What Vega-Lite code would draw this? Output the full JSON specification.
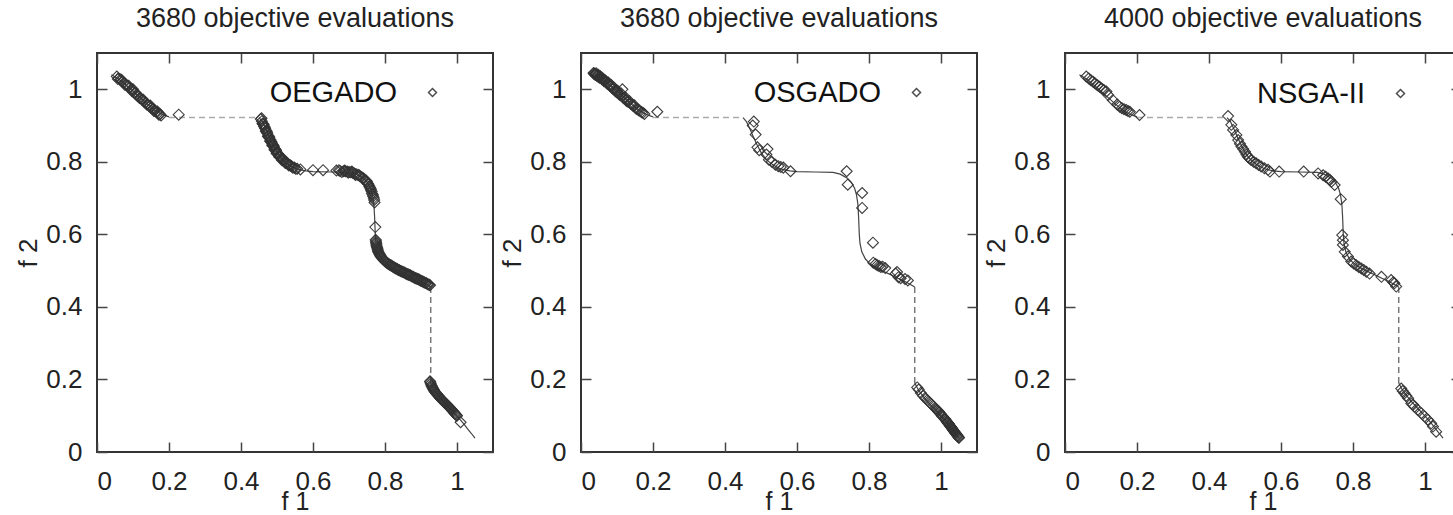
{
  "$schema": "https://vega.github.io/schema/vega-lite/v6.json",
  "padding": {"left": 14, "top": 4, "right": 0, "bottom": 0},
  "spacing": 88,
  "bounds": "flush",
  "config": {
    "font": "Liberation Sans",
    "view": {"stroke": "#333", "strokeWidth": 2},
    "axis": {"grid": false, "domain": false, "tickSize": -10, "tickColor": "#444", "tickWidth": 1.5, "labelFontSize": 26, "labelColor": "#222", "titleFontSize": 26, "titleFontWeight": "normal", "titleColor": "#222", "labelFont": "Liberation Sans", "titleFont": "Liberation Sans", "format": "~g"},
    "axisBottom": {"labelPadding": 26, "titlePadding": -5, "titleFontSize": 25},
    "axisLeft": {"labelPadding": 25, "titlePadding": 4},
    "title": {"fontSize": 27, "fontWeight": "normal", "color": "#222", "font": "Liberation Sans", "frame": "group", "offset": 19, "baseline": "alphabetic"},
    "legend": {"orient": "none", "title": null, "labelFontSize": 29, "labelAlign": "right", "labelOffset": -50, "symbolSize": 64, "symbolStrokeWidth": 1.5, "symbolStrokeColor": "#444", "symbolFillColor": "transparent", "labelColor": "#111", "padding": 0, "labelFont": "Liberation Sans"}
  },
  "datasets": {
    "front": [
      {"seg":"A","x":0.04,"y":1.04},{"seg":"A","x":0.06,"y":1.028},{"seg":"A","x":0.08,"y":1.012},{"seg":"A","x":0.1,"y":0.995},{"seg":"A","x":0.12,"y":0.977},{"seg":"A","x":0.14,"y":0.959},{"seg":"A","x":0.16,"y":0.943},{"seg":"A","x":0.18,"y":0.931},{"seg":"A","x":0.2,"y":0.924},
      {"seg":"B","x":0.45,"y":0.922},{"seg":"B","x":0.46,"y":0.91},{"seg":"B","x":0.47,"y":0.889},{"seg":"B","x":0.48,"y":0.866},{"seg":"B","x":0.49,"y":0.845},{"seg":"B","x":0.5,"y":0.826},{"seg":"B","x":0.51,"y":0.812},{"seg":"B","x":0.52,"y":0.802},{"seg":"B","x":0.53,"y":0.794},{"seg":"B","x":0.54,"y":0.788},{"seg":"B","x":0.55,"y":0.783},{"seg":"B","x":0.56,"y":0.779},{"seg":"B","x":0.58,"y":0.775},{"seg":"B","x":0.6,"y":0.773},{"seg":"B","x":0.65,"y":0.772},{"seg":"B","x":0.7,"y":0.771},{"seg":"B","x":0.72,"y":0.766},{"seg":"B","x":0.74,"y":0.755},{"seg":"B","x":0.75,"y":0.745},{"seg":"B","x":0.76,"y":0.727},{"seg":"B","x":0.765,"y":0.71},{"seg":"B","x":0.769,"y":0.685},{"seg":"B","x":0.771,"y":0.65},{"seg":"B","x":0.773,"y":0.6},{"seg":"B","x":0.775,"y":0.575},{"seg":"B","x":0.78,"y":0.552},{"seg":"B","x":0.79,"y":0.532},{"seg":"B","x":0.8,"y":0.522},{"seg":"B","x":0.82,"y":0.508},{"seg":"B","x":0.84,"y":0.498},{"seg":"B","x":0.86,"y":0.489},{"seg":"B","x":0.88,"y":0.479},{"seg":"B","x":0.9,"y":0.47},{"seg":"B","x":0.92,"y":0.459},{"seg":"B","x":0.927,"y":0.455},
      {"seg":"C","x":0.927,"y":0.19},{"seg":"C","x":0.935,"y":0.175},{"seg":"C","x":0.94,"y":0.167},{"seg":"C","x":0.95,"y":0.154},{"seg":"C","x":0.96,"y":0.142},{"seg":"C","x":0.97,"y":0.131},{"seg":"C","x":0.98,"y":0.12},{"seg":"C","x":0.99,"y":0.11},{"seg":"C","x":1.0,"y":0.099},{"seg":"C","x":1.01,"y":0.088},{"seg":"C","x":1.02,"y":0.076},{"seg":"C","x":1.03,"y":0.063},{"seg":"C","x":1.04,"y":0.051},{"seg":"C","x":1.05,"y":0.038}
    ],
    "gaps": [
      {"seg":"H","x":0.2,"y":0.922},{"seg":"H","x":0.45,"y":0.922},
      {"seg":"V","x":0.927,"y":0.455},{"seg":"V","x":0.927,"y":0.19}
    ],
    "pts": [
      {"algo":"OEGADO","x":0.055,"y":1.035},{"algo":"OEGADO","x":0.06,"y":1.03},{"algo":"OEGADO","x":0.065,"y":1.027},{"algo":"OEGADO","x":0.07,"y":1.022},{"algo":"OEGADO","x":0.075,"y":1.018},{"algo":"OEGADO","x":0.08,"y":1.013},{"algo":"OEGADO","x":0.085,"y":1.009},{"algo":"OEGADO","x":0.09,"y":1.005},{"algo":"OEGADO","x":0.095,"y":1.0},{"algo":"OEGADO","x":0.1,"y":1.0},{"algo":"OEGADO","x":0.105,"y":0.99},{"algo":"OEGADO","x":0.11,"y":0.985},{"algo":"OEGADO","x":0.115,"y":0.98},{"algo":"OEGADO","x":0.12,"y":0.976},{"algo":"OEGADO","x":0.125,"y":0.972},{"algo":"OEGADO","x":0.13,"y":0.967},{"algo":"OEGADO","x":0.135,"y":0.963},{"algo":"OEGADO","x":0.14,"y":0.958},{"algo":"OEGADO","x":0.145,"y":0.954},{"algo":"OEGADO","x":0.15,"y":0.95},{"algo":"OEGADO","x":0.155,"y":0.946},{"algo":"OEGADO","x":0.16,"y":0.942},{"algo":"OEGADO","x":0.165,"y":0.938},{"algo":"OEGADO","x":0.17,"y":0.934},{"algo":"OEGADO","x":0.175,"y":0.931},{"algo":"OEGADO","x":0.227,"y":0.93},
      {"algo":"OEGADO","x":0.058,"y":1.028},{"algo":"OEGADO","x":0.068,"y":1.026},{"algo":"OEGADO","x":0.078,"y":1.012},{"algo":"OEGADO","x":0.088,"y":1.01},{"algo":"OEGADO","x":0.098,"y":0.994},{"algo":"OEGADO","x":0.108,"y":0.99},{"algo":"OEGADO","x":0.112,"y":0.982},{"algo":"OEGADO","x":0.118,"y":0.976},{"algo":"OEGADO","x":0.128,"y":0.972},{"algo":"OEGADO","x":0.138,"y":0.958},{"algo":"OEGADO","x":0.148,"y":0.955},{"algo":"OEGADO","x":0.158,"y":0.94},{"algo":"OEGADO","x":0.168,"y":0.939},{"algo":"OEGADO","x":0.172,"y":0.93},{"algo":"OEGADO","x":0.178,"y":0.928},
      {"algo":"OEGADO","x":0.455,"y":0.918},{"algo":"OEGADO","x":0.458,"y":0.912},{"algo":"OEGADO","x":0.461,"y":0.905},{"algo":"OEGADO","x":0.464,"y":0.898},{"algo":"OEGADO","x":0.467,"y":0.892},{"algo":"OEGADO","x":0.47,"y":0.886},{"algo":"OEGADO","x":0.473,"y":0.879},{"algo":"OEGADO","x":0.476,"y":0.872},{"algo":"OEGADO","x":0.479,"y":0.866},{"algo":"OEGADO","x":0.482,"y":0.86},{"algo":"OEGADO","x":0.485,"y":0.853},{"algo":"OEGADO","x":0.488,"y":0.848},{"algo":"OEGADO","x":0.491,"y":0.842},{"algo":"OEGADO","x":0.494,"y":0.836},{"algo":"OEGADO","x":0.497,"y":0.831},{"algo":"OEGADO","x":0.5,"y":0.826},{"algo":"OEGADO","x":0.504,"y":0.82},{"algo":"OEGADO","x":0.508,"y":0.815},{"algo":"OEGADO","x":0.512,"y":0.81},{"algo":"OEGADO","x":0.516,"y":0.806},{"algo":"OEGADO","x":0.52,"y":0.802},{"algo":"OEGADO","x":0.525,"y":0.798},{"algo":"OEGADO","x":0.53,"y":0.794},{"algo":"OEGADO","x":0.535,"y":0.791},{"algo":"OEGADO","x":0.54,"y":0.788},{"algo":"OEGADO","x":0.548,"y":0.784},{"algo":"OEGADO","x":0.556,"y":0.781},{"algo":"OEGADO","x":0.565,"y":0.779},
      {"algo":"OEGADO","x":0.457,"y":0.92},{"algo":"OEGADO","x":0.46,"y":0.905},{"algo":"OEGADO","x":0.463,"y":0.903},{"algo":"OEGADO","x":0.466,"y":0.895},{"algo":"OEGADO","x":0.469,"y":0.884},{"algo":"OEGADO","x":0.472,"y":0.882},{"algo":"OEGADO","x":0.475,"y":0.87},{"algo":"OEGADO","x":0.478,"y":0.869},{"algo":"OEGADO","x":0.481,"y":0.857},{"algo":"OEGADO","x":0.484,"y":0.856},{"algo":"OEGADO","x":0.487,"y":0.845},{"algo":"OEGADO","x":0.49,"y":0.845},{"algo":"OEGADO","x":0.493,"y":0.833},{"algo":"OEGADO","x":0.496,"y":0.834},{"algo":"OEGADO","x":0.499,"y":0.823},{"algo":"OEGADO","x":0.502,"y":0.823},{"algo":"OEGADO","x":0.506,"y":0.814},{"algo":"OEGADO","x":0.51,"y":0.813},{"algo":"OEGADO","x":0.514,"y":0.804},{"algo":"OEGADO","x":0.518,"y":0.807},{"algo":"OEGADO","x":0.523,"y":0.797},{"algo":"OEGADO","x":0.528,"y":0.797},{"algo":"OEGADO","x":0.533,"y":0.79},{"algo":"OEGADO","x":0.538,"y":0.79},{"algo":"OEGADO","x":0.544,"y":0.784},{"algo":"OEGADO","x":0.552,"y":0.781},
      {"algo":"OEGADO","x":0.6,"y":0.777},{"algo":"OEGADO","x":0.628,"y":0.777},{"algo":"OEGADO","x":0.665,"y":0.776},{"algo":"OEGADO","x":0.675,"y":0.775},{"algo":"OEGADO","x":0.685,"y":0.774},{"algo":"OEGADO","x":0.69,"y":0.774},{"algo":"OEGADO","x":0.695,"y":0.773},{"algo":"OEGADO","x":0.7,"y":0.772},{"algo":"OEGADO","x":0.705,"y":0.771},{"algo":"OEGADO","x":0.71,"y":0.77},{"algo":"OEGADO","x":0.715,"y":0.768},{"algo":"OEGADO","x":0.72,"y":0.766},{"algo":"OEGADO","x":0.725,"y":0.764},{"algo":"OEGADO","x":0.73,"y":0.761},{"algo":"OEGADO","x":0.735,"y":0.758},{"algo":"OEGADO","x":0.74,"y":0.755},{"algo":"OEGADO","x":0.745,"y":0.75},{"algo":"OEGADO","x":0.75,"y":0.745},{"algo":"OEGADO","x":0.754,"y":0.738},{"algo":"OEGADO","x":0.758,"y":0.73},{"algo":"OEGADO","x":0.761,"y":0.722},{"algo":"OEGADO","x":0.764,"y":0.713},{"algo":"OEGADO","x":0.767,"y":0.705},{"algo":"OEGADO","x":0.77,"y":0.695},{"algo":"OEGADO","x":0.771,"y":0.688},{"algo":"OEGADO","x":0.773,"y":0.62},
      {"algo":"OEGADO","x":0.672,"y":0.777},{"algo":"OEGADO","x":0.68,"y":0.772},{"algo":"OEGADO","x":0.688,"y":0.776},{"algo":"OEGADO","x":0.698,"y":0.77},{"algo":"OEGADO","x":0.708,"y":0.773},{"algo":"OEGADO","x":0.718,"y":0.764},{"algo":"OEGADO","x":0.728,"y":0.763},{"algo":"OEGADO","x":0.738,"y":0.753},{"algo":"OEGADO","x":0.748,"y":0.748},{"algo":"OEGADO","x":0.752,"y":0.74},{"algo":"OEGADO","x":0.756,"y":0.733},{"algo":"OEGADO","x":0.76,"y":0.726},{"algo":"OEGADO","x":0.763,"y":0.718},{"algo":"OEGADO","x":0.766,"y":0.709},{"algo":"OEGADO","x":0.769,"y":0.7},
      {"algo":"OEGADO","x":0.774,"y":0.585},{"algo":"OEGADO","x":0.775,"y":0.578},{"algo":"OEGADO","x":0.776,"y":0.571},{"algo":"OEGADO","x":0.778,"y":0.564},{"algo":"OEGADO","x":0.78,"y":0.557},{"algo":"OEGADO","x":0.782,"y":0.551},{"algo":"OEGADO","x":0.785,"y":0.545},{"algo":"OEGADO","x":0.788,"y":0.54},{"algo":"OEGADO","x":0.792,"y":0.535},{"algo":"OEGADO","x":0.796,"y":0.53},{"algo":"OEGADO","x":0.8,"y":0.526},{"algo":"OEGADO","x":0.805,"y":0.522},{"algo":"OEGADO","x":0.81,"y":0.518},{"algo":"OEGADO","x":0.815,"y":0.515},{"algo":"OEGADO","x":0.82,"y":0.512},{"algo":"OEGADO","x":0.825,"y":0.509},{"algo":"OEGADO","x":0.83,"y":0.506},{"algo":"OEGADO","x":0.835,"y":0.503},{"algo":"OEGADO","x":0.84,"y":0.501},{"algo":"OEGADO","x":0.845,"y":0.498},{"algo":"OEGADO","x":0.85,"y":0.496},{"algo":"OEGADO","x":0.855,"y":0.494},{"algo":"OEGADO","x":0.86,"y":0.491},{"algo":"OEGADO","x":0.865,"y":0.489},{"algo":"OEGADO","x":0.87,"y":0.487},{"algo":"OEGADO","x":0.875,"y":0.484},{"algo":"OEGADO","x":0.88,"y":0.482},{"algo":"OEGADO","x":0.885,"y":0.479},{"algo":"OEGADO","x":0.89,"y":0.477},{"algo":"OEGADO","x":0.895,"y":0.475},{"algo":"OEGADO","x":0.9,"y":0.472},{"algo":"OEGADO","x":0.905,"y":0.47},{"algo":"OEGADO","x":0.91,"y":0.467},{"algo":"OEGADO","x":0.915,"y":0.465},{"algo":"OEGADO","x":0.92,"y":0.462},{"algo":"OEGADO","x":0.925,"y":0.46},
      {"algo":"OEGADO","x":0.775,"y":0.582},{"algo":"OEGADO","x":0.776,"y":0.575},{"algo":"OEGADO","x":0.777,"y":0.567},{"algo":"OEGADO","x":0.779,"y":0.56},{"algo":"OEGADO","x":0.781,"y":0.553},{"algo":"OEGADO","x":0.784,"y":0.547},{"algo":"OEGADO","x":0.787,"y":0.542},{"algo":"OEGADO","x":0.79,"y":0.537},{"algo":"OEGADO","x":0.794,"y":0.532},{"algo":"OEGADO","x":0.798,"y":0.528},{"algo":"OEGADO","x":0.803,"y":0.524},{"algo":"OEGADO","x":0.808,"y":0.52},{"algo":"OEGADO","x":0.813,"y":0.516},{"algo":"OEGADO","x":0.818,"y":0.514},{"algo":"OEGADO","x":0.823,"y":0.51},{"algo":"OEGADO","x":0.828,"y":0.507},{"algo":"OEGADO","x":0.833,"y":0.505},{"algo":"OEGADO","x":0.838,"y":0.502},{"algo":"OEGADO","x":0.843,"y":0.499},{"algo":"OEGADO","x":0.848,"y":0.497},{"algo":"OEGADO","x":0.853,"y":0.495},{"algo":"OEGADO","x":0.858,"y":0.492},{"algo":"OEGADO","x":0.863,"y":0.49},{"algo":"OEGADO","x":0.868,"y":0.488},{"algo":"OEGADO","x":0.873,"y":0.485},{"algo":"OEGADO","x":0.878,"y":0.483},{"algo":"OEGADO","x":0.883,"y":0.48},{"algo":"OEGADO","x":0.888,"y":0.478},{"algo":"OEGADO","x":0.893,"y":0.476},{"algo":"OEGADO","x":0.898,"y":0.473},{"algo":"OEGADO","x":0.903,"y":0.471},{"algo":"OEGADO","x":0.908,"y":0.468},{"algo":"OEGADO","x":0.913,"y":0.466},{"algo":"OEGADO","x":0.918,"y":0.463},{"algo":"OEGADO","x":0.923,"y":0.461},
      {"algo":"OEGADO","x":0.925,"y":0.195},{"algo":"OEGADO","x":0.927,"y":0.188},{"algo":"OEGADO","x":0.93,"y":0.181},{"algo":"OEGADO","x":0.933,"y":0.175},{"algo":"OEGADO","x":0.936,"y":0.17},{"algo":"OEGADO","x":0.94,"y":0.165},{"algo":"OEGADO","x":0.944,"y":0.16},{"algo":"OEGADO","x":0.948,"y":0.155},{"algo":"OEGADO","x":0.952,"y":0.15},{"algo":"OEGADO","x":0.956,"y":0.146},{"algo":"OEGADO","x":0.96,"y":0.142},{"algo":"OEGADO","x":0.964,"y":0.138},{"algo":"OEGADO","x":0.968,"y":0.134},{"algo":"OEGADO","x":0.972,"y":0.13},{"algo":"OEGADO","x":0.976,"y":0.126},{"algo":"OEGADO","x":0.98,"y":0.122},{"algo":"OEGADO","x":0.984,"y":0.118},{"algo":"OEGADO","x":0.988,"y":0.113},{"algo":"OEGADO","x":0.992,"y":0.108},{"algo":"OEGADO","x":0.996,"y":0.104},{"algo":"OEGADO","x":1.0,"y":0.1},{"algo":"OEGADO","x":1.01,"y":0.082},
      {"algo":"OEGADO","x":0.926,"y":0.192},{"algo":"OEGADO","x":0.929,"y":0.184},{"algo":"OEGADO","x":0.932,"y":0.178},{"algo":"OEGADO","x":0.935,"y":0.172},{"algo":"OEGADO","x":0.938,"y":0.167},{"algo":"OEGADO","x":0.942,"y":0.162},{"algo":"OEGADO","x":0.946,"y":0.157},{"algo":"OEGADO","x":0.95,"y":0.153},{"algo":"OEGADO","x":0.954,"y":0.148},{"algo":"OEGADO","x":0.958,"y":0.144},{"algo":"OEGADO","x":0.962,"y":0.14},{"algo":"OEGADO","x":0.966,"y":0.136},{"algo":"OEGADO","x":0.97,"y":0.132},{"algo":"OEGADO","x":0.974,"y":0.128},{"algo":"OEGADO","x":0.978,"y":0.124},{"algo":"OEGADO","x":0.982,"y":0.12},{"algo":"OEGADO","x":0.986,"y":0.116},{"algo":"OEGADO","x":0.99,"y":0.111},{"algo":"OEGADO","x":0.994,"y":0.106},{"algo":"OEGADO","x":0.998,"y":0.102},
      {"algo":"OSGADO","x":0.035,"y":1.045},{"algo":"OSGADO","x":0.038,"y":1.043},{"algo":"OSGADO","x":0.041,"y":1.041},{"algo":"OSGADO","x":0.044,"y":1.039},{"algo":"OSGADO","x":0.047,"y":1.037},{"algo":"OSGADO","x":0.05,"y":1.035},{"algo":"OSGADO","x":0.053,"y":1.033},{"algo":"OSGADO","x":0.056,"y":1.031},{"algo":"OSGADO","x":0.06,"y":1.028},{"algo":"OSGADO","x":0.063,"y":1.026},{"algo":"OSGADO","x":0.066,"y":1.023},{"algo":"OSGADO","x":0.07,"y":1.02},{"algo":"OSGADO","x":0.074,"y":1.017},{"algo":"OSGADO","x":0.078,"y":1.013},{"algo":"OSGADO","x":0.082,"y":1.009},{"algo":"OSGADO","x":0.086,"y":1.005},{"algo":"OSGADO","x":0.09,"y":1.001},{"algo":"OSGADO","x":0.095,"y":0.996},{"algo":"OSGADO","x":0.1,"y":0.992},{"algo":"OSGADO","x":0.105,"y":0.988},{"algo":"OSGADO","x":0.11,"y":0.984},{"algo":"OSGADO","x":0.115,"y":1.0},{"algo":"OSGADO","x":0.12,"y":0.975},{"algo":"OSGADO","x":0.125,"y":0.97},{"algo":"OSGADO","x":0.13,"y":0.966},{"algo":"OSGADO","x":0.138,"y":0.96},{"algo":"OSGADO","x":0.145,"y":0.954},{"algo":"OSGADO","x":0.152,"y":0.948},{"algo":"OSGADO","x":0.16,"y":0.942},{"algo":"OSGADO","x":0.168,"y":0.937},{"algo":"OSGADO","x":0.176,"y":0.932},{"algo":"OSGADO","x":0.212,"y":0.938},
      {"algo":"OSGADO","x":0.036,"y":1.043},{"algo":"OSGADO","x":0.039,"y":1.04},{"algo":"OSGADO","x":0.042,"y":1.044},{"algo":"OSGADO","x":0.045,"y":1.036},{"algo":"OSGADO","x":0.048,"y":1.04},{"algo":"OSGADO","x":0.051,"y":1.032},{"algo":"OSGADO","x":0.054,"y":1.036},{"algo":"OSGADO","x":0.058,"y":1.028},{"algo":"OSGADO","x":0.061,"y":1.03},{"algo":"OSGADO","x":0.064,"y":1.022},{"algo":"OSGADO","x":0.068,"y":1.024},{"algo":"OSGADO","x":0.072,"y":1.016},{"algo":"OSGADO","x":0.076,"y":1.019},{"algo":"OSGADO","x":0.08,"y":1.01},{"algo":"OSGADO","x":0.084,"y":1.012},{"algo":"OSGADO","x":0.088,"y":1.002},{"algo":"OSGADO","x":0.092,"y":1.004},{"algo":"OSGADO","x":0.097,"y":0.994},{"algo":"OSGADO","x":0.102,"y":0.996},{"algo":"OSGADO","x":0.107,"y":0.985},{"algo":"OSGADO","x":0.112,"y":0.988},{"algo":"OSGADO","x":0.118,"y":0.976},{"algo":"OSGADO","x":0.123,"y":0.978},{"algo":"OSGADO","x":0.128,"y":0.967},{"algo":"OSGADO","x":0.134,"y":0.968},{"algo":"OSGADO","x":0.142,"y":0.958},{"algo":"OSGADO","x":0.148,"y":0.956},{"algo":"OSGADO","x":0.156,"y":0.945},{"algo":"OSGADO","x":0.164,"y":0.94},{"algo":"OSGADO","x":0.172,"y":0.935},
      {"algo":"OSGADO","x":0.48,"y":0.911},{"algo":"OSGADO","x":0.477,"y":0.9},{"algo":"OSGADO","x":0.485,"y":0.875},{"algo":"OSGADO","x":0.49,"y":0.84},{"algo":"OSGADO","x":0.495,"y":0.832},{"algo":"OSGADO","x":0.518,"y":0.835},{"algo":"OSGADO","x":0.515,"y":0.82},{"algo":"OSGADO","x":0.522,"y":0.806},{"algo":"OSGADO","x":0.53,"y":0.8},{"algo":"OSGADO","x":0.54,"y":0.792},{"algo":"OSGADO","x":0.548,"y":0.788},{"algo":"OSGADO","x":0.555,"y":0.786},{"algo":"OSGADO","x":0.562,"y":0.784},{"algo":"OSGADO","x":0.582,"y":0.774},
      {"algo":"OSGADO","x":0.738,"y":0.774},{"algo":"OSGADO","x":0.741,"y":0.737},{"algo":"OSGADO","x":0.781,"y":0.714},{"algo":"OSGADO","x":0.781,"y":0.673},{"algo":"OSGADO","x":0.811,"y":0.577},{"algo":"OSGADO","x":0.812,"y":0.522},{"algo":"OSGADO","x":0.818,"y":0.518},{"algo":"OSGADO","x":0.823,"y":0.515},{"algo":"OSGADO","x":0.828,"y":0.513},{"algo":"OSGADO","x":0.833,"y":0.51},{"algo":"OSGADO","x":0.838,"y":0.511},{"algo":"OSGADO","x":0.845,"y":0.507},{"algo":"OSGADO","x":0.874,"y":0.492},{"algo":"OSGADO","x":0.878,"y":0.496},{"algo":"OSGADO","x":0.882,"y":0.482},{"algo":"OSGADO","x":0.888,"y":0.479},{"algo":"OSGADO","x":0.9,"y":0.477},{"algo":"OSGADO","x":0.908,"y":0.473},
      {"algo":"OSGADO","x":0.934,"y":0.178},{"algo":"OSGADO","x":0.938,"y":0.172},{"algo":"OSGADO","x":0.944,"y":0.163},{"algo":"OSGADO","x":0.95,"y":0.155},{"algo":"OSGADO","x":0.956,"y":0.149},{"algo":"OSGADO","x":0.962,"y":0.143},{"algo":"OSGADO","x":0.968,"y":0.137},{"algo":"OSGADO","x":0.974,"y":0.131},{"algo":"OSGADO","x":0.98,"y":0.125},{"algo":"OSGADO","x":0.985,"y":0.12},{"algo":"OSGADO","x":0.99,"y":0.115},{"algo":"OSGADO","x":0.995,"y":0.11},{"algo":"OSGADO","x":1.0,"y":0.104},{"algo":"OSGADO","x":1.005,"y":0.098},{"algo":"OSGADO","x":1.01,"y":0.092},{"algo":"OSGADO","x":1.014,"y":0.087},{"algo":"OSGADO","x":1.018,"y":0.082},{"algo":"OSGADO","x":1.021,"y":0.078},{"algo":"OSGADO","x":1.024,"y":0.074},{"algo":"OSGADO","x":1.027,"y":0.07},{"algo":"OSGADO","x":1.03,"y":0.066},{"algo":"OSGADO","x":1.033,"y":0.062},{"algo":"OSGADO","x":1.036,"y":0.058},{"algo":"OSGADO","x":1.039,"y":0.054},{"algo":"OSGADO","x":1.042,"y":0.05},{"algo":"OSGADO","x":1.045,"y":0.046},{"algo":"OSGADO","x":1.048,"y":0.042},{"algo":"OSGADO","x":1.05,"y":0.039},
      {"algo":"OSGADO","x":0.987,"y":0.118},{"algo":"OSGADO","x":0.992,"y":0.112},{"algo":"OSGADO","x":0.997,"y":0.107},{"algo":"OSGADO","x":1.002,"y":0.1},{"algo":"OSGADO","x":1.012,"y":0.09},{"algo":"OSGADO","x":1.016,"y":0.084},{"algo":"OSGADO","x":1.019,"y":0.08},{"algo":"OSGADO","x":1.022,"y":0.077},{"algo":"OSGADO","x":1.025,"y":0.072},{"algo":"OSGADO","x":1.028,"y":0.068},{"algo":"OSGADO","x":1.031,"y":0.064},{"algo":"OSGADO","x":1.034,"y":0.06},{"algo":"OSGADO","x":1.037,"y":0.056},{"algo":"OSGADO","x":1.04,"y":0.052},{"algo":"OSGADO","x":1.043,"y":0.048},{"algo":"OSGADO","x":1.046,"y":0.044},{"algo":"OSGADO","x":1.049,"y":0.04},
      {"algo":"NSGA-II","x":0.059,"y":1.035},{"algo":"NSGA-II","x":0.066,"y":1.03},{"algo":"NSGA-II","x":0.072,"y":1.025},{"algo":"NSGA-II","x":0.078,"y":1.021},{"algo":"NSGA-II","x":0.084,"y":1.016},{"algo":"NSGA-II","x":0.09,"y":1.011},{"algo":"NSGA-II","x":0.096,"y":1.007},{"algo":"NSGA-II","x":0.102,"y":1.002},{"algo":"NSGA-II","x":0.108,"y":0.998},{"algo":"NSGA-II","x":0.115,"y":0.994},{"algo":"NSGA-II","x":0.12,"y":0.984},{"algo":"NSGA-II","x":0.133,"y":0.97},{"algo":"NSGA-II","x":0.145,"y":0.958},{"algo":"NSGA-II","x":0.152,"y":0.952},{"algo":"NSGA-II","x":0.158,"y":0.948},{"algo":"NSGA-II","x":0.164,"y":0.945},{"algo":"NSGA-II","x":0.17,"y":0.943},{"algo":"NSGA-II","x":0.175,"y":0.94},{"algo":"NSGA-II","x":0.18,"y":0.938},{"algo":"NSGA-II","x":0.207,"y":0.929},
      {"algo":"NSGA-II","x":0.453,"y":0.926},{"algo":"NSGA-II","x":0.462,"y":0.902},{"algo":"NSGA-II","x":0.467,"y":0.888},{"algo":"NSGA-II","x":0.476,"y":0.874},{"algo":"NSGA-II","x":0.481,"y":0.86},{"algo":"NSGA-II","x":0.486,"y":0.85},{"algo":"NSGA-II","x":0.49,"y":0.842},{"algo":"NSGA-II","x":0.495,"y":0.835},{"algo":"NSGA-II","x":0.5,"y":0.828},{"algo":"NSGA-II","x":0.504,"y":0.82},{"algo":"NSGA-II","x":0.508,"y":0.814},{"algo":"NSGA-II","x":0.512,"y":0.81},{"algo":"NSGA-II","x":0.517,"y":0.805},{"algo":"NSGA-II","x":0.524,"y":0.8},{"algo":"NSGA-II","x":0.531,"y":0.796},{"algo":"NSGA-II","x":0.538,"y":0.791},{"algo":"NSGA-II","x":0.545,"y":0.787},{"algo":"NSGA-II","x":0.554,"y":0.782},{"algo":"NSGA-II","x":0.564,"y":0.778},{"algo":"NSGA-II","x":0.569,"y":0.773},{"algo":"NSGA-II","x":0.595,"y":0.773},{"algo":"NSGA-II","x":0.663,"y":0.773},
      {"algo":"NSGA-II","x":0.703,"y":0.768},{"algo":"NSGA-II","x":0.717,"y":0.763},{"algo":"NSGA-II","x":0.724,"y":0.759},{"algo":"NSGA-II","x":0.731,"y":0.754},{"algo":"NSGA-II","x":0.736,"y":0.75},{"algo":"NSGA-II","x":0.74,"y":0.745},{"algo":"NSGA-II","x":0.749,"y":0.736},{"algo":"NSGA-II","x":0.766,"y":0.697},{"algo":"NSGA-II","x":0.77,"y":0.598},{"algo":"NSGA-II","x":0.772,"y":0.584},{"algo":"NSGA-II","x":0.772,"y":0.571},{"algo":"NSGA-II","x":0.777,"y":0.552},{"algo":"NSGA-II","x":0.786,"y":0.539},{"algo":"NSGA-II","x":0.795,"y":0.525},{"algo":"NSGA-II","x":0.802,"y":0.52},{"algo":"NSGA-II","x":0.809,"y":0.515},{"algo":"NSGA-II","x":0.816,"y":0.51},{"algo":"NSGA-II","x":0.823,"y":0.506},{"algo":"NSGA-II","x":0.83,"y":0.502},{"algo":"NSGA-II","x":0.837,"y":0.497},{"algo":"NSGA-II","x":0.846,"y":0.492},{"algo":"NSGA-II","x":0.879,"y":0.483},{"algo":"NSGA-II","x":0.906,"y":0.474},{"algo":"NSGA-II","x":0.912,"y":0.468},{"algo":"NSGA-II","x":0.915,"y":0.465},{"algo":"NSGA-II","x":0.92,"y":0.456},
      {"algo":"NSGA-II","x":0.934,"y":0.175},{"algo":"NSGA-II","x":0.938,"y":0.168},{"algo":"NSGA-II","x":0.943,"y":0.162},{"algo":"NSGA-II","x":0.948,"y":0.155},{"algo":"NSGA-II","x":0.953,"y":0.148},{"algo":"NSGA-II","x":0.962,"y":0.134},{"algo":"NSGA-II","x":0.967,"y":0.13},{"algo":"NSGA-II","x":0.971,"y":0.125},{"algo":"NSGA-II","x":0.98,"y":0.116},{"algo":"NSGA-II","x":0.99,"y":0.107},{"algo":"NSGA-II","x":0.999,"y":0.098},{"algo":"NSGA-II","x":1.008,"y":0.089},{"algo":"NSGA-II","x":1.017,"y":0.079},{"algo":"NSGA-II","x":1.022,"y":0.07},{"algo":"NSGA-II","x":1.031,"y":0.056}
    ]
  },
  "resolve": {"scale": {"shape": "independent"}},
  "hconcat": [
    {
      "width": 396, "height": 399,
      "title": {"text": "3680 objective evaluations"},
      "resolve": {"axis": {"x": "independent", "y": "independent"}},
      "layer": [
        {"data": {"name": "gaps"}, "mark": {"type": "line", "strokeDash": [6, 4], "strokeWidth": 1.5},
         "encoding": {"x": {"field": "x", "type": "quantitative", "scale": {"domain": [0, 1.1], "nice": false}, "axis": null},
                      "y": {"field": "y", "type": "quantitative", "scale": {"domain": [0, 1.1], "nice": false}, "axis": null},
                      "detail": {"field": "seg"},
                      "color": {"field": "seg", "type": "nominal", "scale": {"domain": ["H", "V"], "range": ["#aaaaaa", "#777777"]}, "legend": null}}},
        {"data": {"name": "front"}, "mark": {"type": "line", "strokeWidth": 1.2, "color": "#444"},
         "encoding": {"x": {"field": "x", "type": "quantitative", "scale": {"domain": [0, 1.1], "nice": false}, "axis": {"orient": "top", "labels": false, "title": null, "values": [0, 0.2, 0.4, 0.6, 0.8, 1]}},
                      "y": {"field": "y", "type": "quantitative", "scale": {"domain": [0, 1.1], "nice": false}, "axis": {"orient": "right", "labels": false, "title": null, "values": [0, 0.2, 0.4, 0.6, 0.8, 1]}},
                      "detail": {"field": "seg"}}},
        {"data": {"name": "pts"}, "transform": [{"filter": "datum.algo == 'OEGADO'"}],
         "mark": {"type": "point", "filled": false, "size": 120, "strokeWidth": 1.1, "color": "#333", "opacity": 0.95},
         "encoding": {"x": {"field": "x", "type": "quantitative", "scale": {"domain": [0, 1.1], "nice": false}, "axis": {"title": "f 1", "values": [0, 0.2, 0.4, 0.6, 0.8, 1]}},
                      "y": {"field": "y", "type": "quantitative", "scale": {"domain": [0, 1.1], "nice": false}, "axis": {"title": "f 2", "values": [0, 0.2, 0.4, 0.6, 0.8, 1]}},
                      "shape": {"field": "algo", "type": "nominal", "scale": {"range": ["diamond"]}, "legend": {"legendX": 321, "legendY": 25}}}}
      ]
    },
    {
      "width": 396, "height": 399,
      "title": {"text": "3680 objective evaluations"},
      "resolve": {"axis": {"x": "independent", "y": "independent"}},
      "layer": [
        {"data": {"name": "gaps"}, "mark": {"type": "line", "strokeDash": [6, 4], "strokeWidth": 1.5},
         "encoding": {"x": {"field": "x", "type": "quantitative", "scale": {"domain": [0, 1.1], "nice": false}, "axis": null},
                      "y": {"field": "y", "type": "quantitative", "scale": {"domain": [0, 1.1], "nice": false}, "axis": null},
                      "detail": {"field": "seg"},
                      "color": {"field": "seg", "type": "nominal", "scale": {"domain": ["H", "V"], "range": ["#aaaaaa", "#777777"]}, "legend": null}}},
        {"data": {"name": "front"}, "mark": {"type": "line", "strokeWidth": 1.2, "color": "#444"},
         "encoding": {"x": {"field": "x", "type": "quantitative", "scale": {"domain": [0, 1.1], "nice": false}, "axis": {"orient": "top", "labels": false, "title": null, "values": [0, 0.2, 0.4, 0.6, 0.8, 1]}},
                      "y": {"field": "y", "type": "quantitative", "scale": {"domain": [0, 1.1], "nice": false}, "axis": {"orient": "right", "labels": false, "title": null, "values": [0, 0.2, 0.4, 0.6, 0.8, 1]}},
                      "detail": {"field": "seg"}}},
        {"data": {"name": "pts"}, "transform": [{"filter": "datum.algo == 'OSGADO'"}],
         "mark": {"type": "point", "filled": false, "size": 120, "strokeWidth": 1.1, "color": "#333", "opacity": 0.95},
         "encoding": {"x": {"field": "x", "type": "quantitative", "scale": {"domain": [0, 1.1], "nice": false}, "axis": {"title": "f 1", "values": [0, 0.2, 0.4, 0.6, 0.8, 1]}},
                      "y": {"field": "y", "type": "quantitative", "scale": {"domain": [0, 1.1], "nice": false}, "axis": {"title": "f 2", "values": [0, 0.2, 0.4, 0.6, 0.8, 1]}},
                      "shape": {"field": "algo", "type": "nominal", "scale": {"range": ["diamond"]}, "legend": {"legendX": 321, "legendY": 25}}}}
      ]
    },
    {
      "width": 396, "height": 399,
      "title": {"text": "4000 objective evaluations"},
      "resolve": {"axis": {"x": "independent", "y": "independent"}},
      "layer": [
        {"data": {"name": "gaps"}, "mark": {"type": "line", "strokeDash": [6, 4], "strokeWidth": 1.5},
         "encoding": {"x": {"field": "x", "type": "quantitative", "scale": {"domain": [0, 1.1], "nice": false}, "axis": null},
                      "y": {"field": "y", "type": "quantitative", "scale": {"domain": [0, 1.1], "nice": false}, "axis": null},
                      "detail": {"field": "seg"},
                      "color": {"field": "seg", "type": "nominal", "scale": {"domain": ["H", "V"], "range": ["#888888", "#777777"]}, "legend": null}}},
        {"data": {"name": "front"}, "mark": {"type": "line", "strokeWidth": 1.2, "color": "#444"},
         "encoding": {"x": {"field": "x", "type": "quantitative", "scale": {"domain": [0, 1.1], "nice": false}, "axis": {"orient": "top", "labels": false, "title": null, "values": [0, 0.2, 0.4, 0.6, 0.8, 1]}},
                      "y": {"field": "y", "type": "quantitative", "scale": {"domain": [0, 1.1], "nice": false}, "axis": {"orient": "right", "labels": false, "title": null, "values": [0, 0.2, 0.4, 0.6, 0.8, 1]}},
                      "detail": {"field": "seg"}}},
        {"data": {"name": "pts"}, "transform": [{"filter": "datum.algo == 'NSGA-II'"}],
         "mark": {"type": "point", "filled": false, "size": 120, "strokeWidth": 1.1, "color": "#333", "opacity": 0.95},
         "encoding": {"x": {"field": "x", "type": "quantitative", "scale": {"domain": [0, 1.1], "nice": false}, "axis": {"title": "f 1", "values": [0, 0.2, 0.4, 0.6, 0.8, 1]}},
                      "y": {"field": "y", "type": "quantitative", "scale": {"domain": [0, 1.1], "nice": false}, "axis": {"title": "f 2", "values": [0, 0.2, 0.4, 0.6, 0.8, 1]}},
                      "shape": {"field": "algo", "type": "nominal", "scale": {"range": ["diamond"]}, "legend": {"legendX": 321, "legendY": 26}}}}
      ]
    }
  ]
}
